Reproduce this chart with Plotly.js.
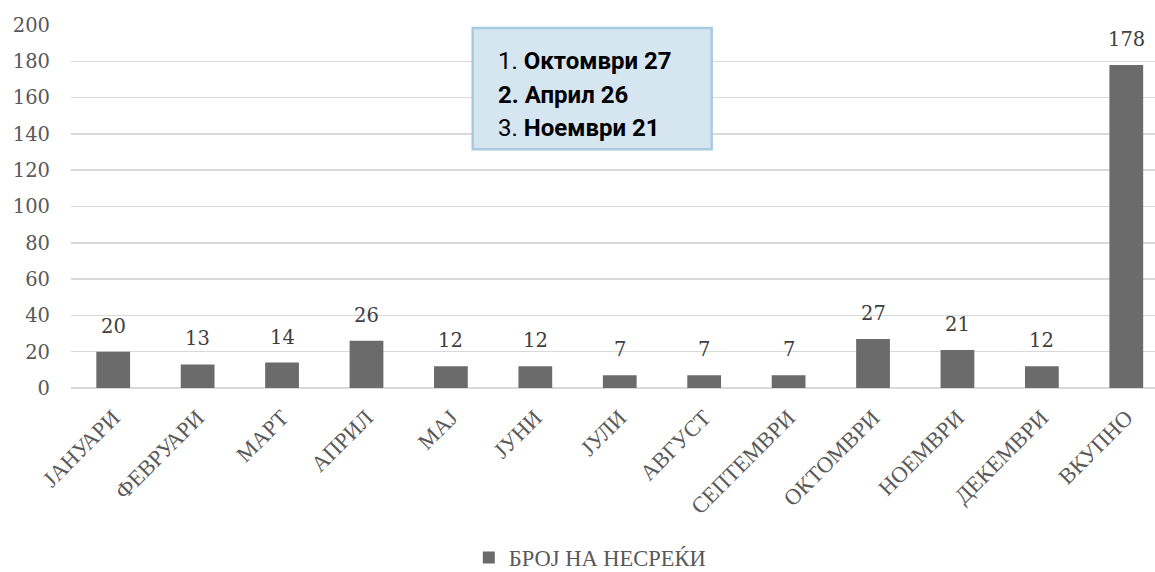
<!DOCTYPE html>
<html>
<head>
<meta charset="utf-8">
<script src="https://cdn.plot.ly/plotly-3.0.1.min.js"></script>
<style>html,body{margin:0;padding:0;background:#fff;}#chart{width:1155px;height:572px;}</style>
</head>
<body>
<div id="chart"></div>
<script>
const categories = ["ЈАНУАРИ","ФЕВРУАРИ","МАРТ","АПРИЛ","МАЈ","ЈУНИ","ЈУЛИ","АВГУСТ","СЕПТЕМВРИ","ОКТОМВРИ","НОЕМВРИ","ДЕКЕМВРИ","ВКУПНО"];
const accidents = [20,13,14,26,12,12,7,7,7,27,21,12,178];
const seriesName = "БРОЈ НА НЕСРЕЌИ";
const yTicks = [0,20,40,60,80,100,120,140,160,180,200];
const boxLines = ["1. <b>Октомври 27</b>","<b>2. Април 26</b>","3. <b>Ноември 21</b>"];

const labelFont = {family:"DejaVu Serif", size:19.5, color:"#404040"};
const annotations = categories.map((c,i)=>({
  x:c, y:accidents[i], xref:"x", yref:"y", text:String(accidents[i]),
  showarrow:false, yanchor:"bottom", yshift:12, font:labelFont
}));
const lineY = [0.9, 0.806, 0.716];
boxLines.forEach((t,i)=>annotations.push({
  x:0.392, y:lineY[i], xref:"paper", yref:"paper", xanchor:"left", yanchor:"middle",
  text:t, showarrow:false, align:"left",
  font:{family:"Liberation Sans Narrow, Roboto, sans-serif", size:24, color:"#000"}
}));

const trace = {
  type:"bar", x:categories, y:accidents, name:seriesName,
  marker:{color:"#6b6b6b"}, width:0.4, showlegend:true
};

const layout = {
  width:1155, height:572,
  margin:{l:71, r:0, t:24.7, b:184, autoexpand:false},
  paper_bgcolor:"#fff", plot_bgcolor:"#fff",
  xaxis:{type:"category", range:[-0.5,12.34], tickangle:-45, showgrid:false, showline:false, zeroline:false,
         automargin:false, ticks:"", ticklabelstandoff:11,
         tickfont:{family:"Liberation Serif", size:22.5, color:"#595959"}},
  yaxis:{range:[0,200], tickvals:yTicks, showgrid:true, gridcolor:"#d9d9d9", gridwidth:1.5,
         automargin:false, zeroline:true, zerolinecolor:"#d9d9d9", zerolinewidth:1.5, showline:false, ticks:"",
         ticklabelstandoff:20, tickfont:{family:"DejaVu Serif", size:19.5, color:"#595959"}},
  showlegend:true,
  legend:{orientation:"h", x:0.367, xanchor:"left", y:-0.468, yanchor:"middle",
          font:{family:"Liberation Serif", size:22.5, color:"#595959"}},
  shapes:[{type:"rect", xref:"paper", yref:"paper", x0:0.3706, x1:0.591, y0:0.658, y1:0.9917,
           fillcolor:"#d6e6f1", line:{color:"#a8cadf", width:2.5}}],
  annotations:annotations
};
Plotly.newPlot("chart",[trace],layout,{displayModeBar:false,staticPlot:true});
</script>
</body>
</html>
